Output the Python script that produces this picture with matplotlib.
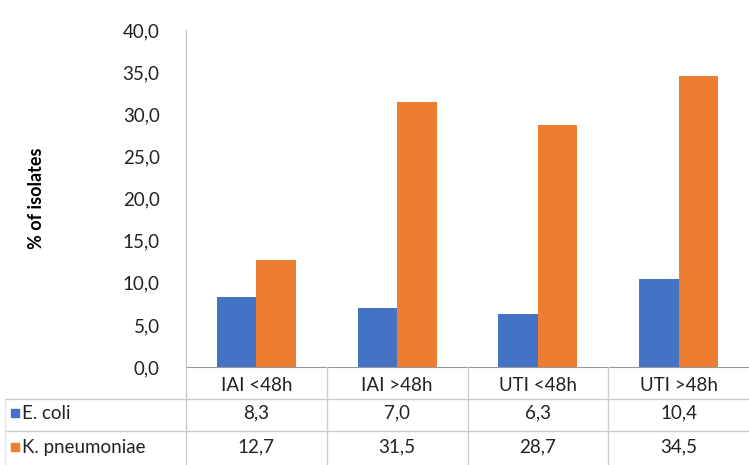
import matplotlib
matplotlib.use("Agg")
import matplotlib.pyplot as plt
from matplotlib.patches import Rectangle
import numpy as np

categories = ["IAI <48h", "IAI >48h", "UTI <48h", "UTI >48h"]
series_names = ["E. coli", "K. pneumoniae"]
ecoli = [8.3, 7.0, 6.3, 10.4]
kpneu = [12.7, 31.5, 28.7, 34.5]
colors = ["#4472C4", "#ED7D31"]

plt.rcParams['font.family'] = ['Lato', 'DejaVu Sans']

W, H = 749, 465
fig = plt.figure(figsize=(W/100, H/100), dpi=100)
x0, x1 = 186, 749
ytop, ybot = 30, 367
ax = fig.add_axes([x0/W, 1-ybot/H, (x1-x0)/W, (ybot-ytop)/H])

x = np.arange(len(categories))
bw = 0.28
ax.bar(x - bw/2, ecoli, bw, color=colors[0])
ax.bar(x + bw/2, kpneu, bw, color=colors[1])
ax.set_xlim(-0.5, len(categories)-0.5)
ax.set_ylim(0, 40)
ax.set_yticks(np.arange(0, 41, 5))
ax.set_yticklabels([f"{v:.1f}".replace(".", ",") for v in np.arange(0, 41, 5)], fontsize=13.5, color="#222222")
ax.tick_params(axis='y', length=0, pad=19)
ax.set_xticks([])
for s in ['top', 'right']:
    ax.spines[s].set_visible(False)
ax.spines['left'].set_color('#bbbbbb')
ax.spines['bottom'].set_color('#999999')
ax.set_ylabel("% of isolates", fontsize=13, fontweight='bold')
ax.yaxis.set_label_coords(-0.25, 0.5)

# table
line_c = '#cccccc'
row_y = [385, 413, 447]
hlines = [399, 431]
for hy in hlines:
    fig.add_artist(plt.Line2D([5/W, 1], [1-hy/H, 1-hy/H], color=line_c, lw=1))
fig.add_artist(plt.Line2D([5/W, 5/W], [0, 1-hlines[0]/H], color='#e4e4e4', lw=1))
bounds = np.linspace(x0, x1, len(categories)+1)
for bx in bounds[:-1]:
    fig.add_artist(plt.Line2D([bx/W, bx/W], [0, 1-ybot/H], color=line_c, lw=1))
centers = (bounds[:-1] + bounds[1:]) / 2
for cx, cat in zip(centers, categories):
    fig.text(cx/W, 1-row_y[0]/H, cat, ha='center', va='center', fontsize=13.5, color='#222222')
for r, (name, vals) in enumerate(zip(series_names, [ecoli, kpneu])):
    yy = 1-row_y[r+1]/H
    fig.add_artist(Rectangle((11/W, yy-4/H), 8/W, 8/H, color=colors[r], transform=fig.transFigure))
    fig.text(22/W, yy, name, ha='left', va='center', fontsize=13.5, color='#222222')
    for cx, v in zip(centers, vals):
        fig.text(cx/W, yy, f"{v:.1f}".replace(".", ","), ha='center', va='center', fontsize=13.5, color='#222222')

fig.savefig("out.png", dpi=100)
